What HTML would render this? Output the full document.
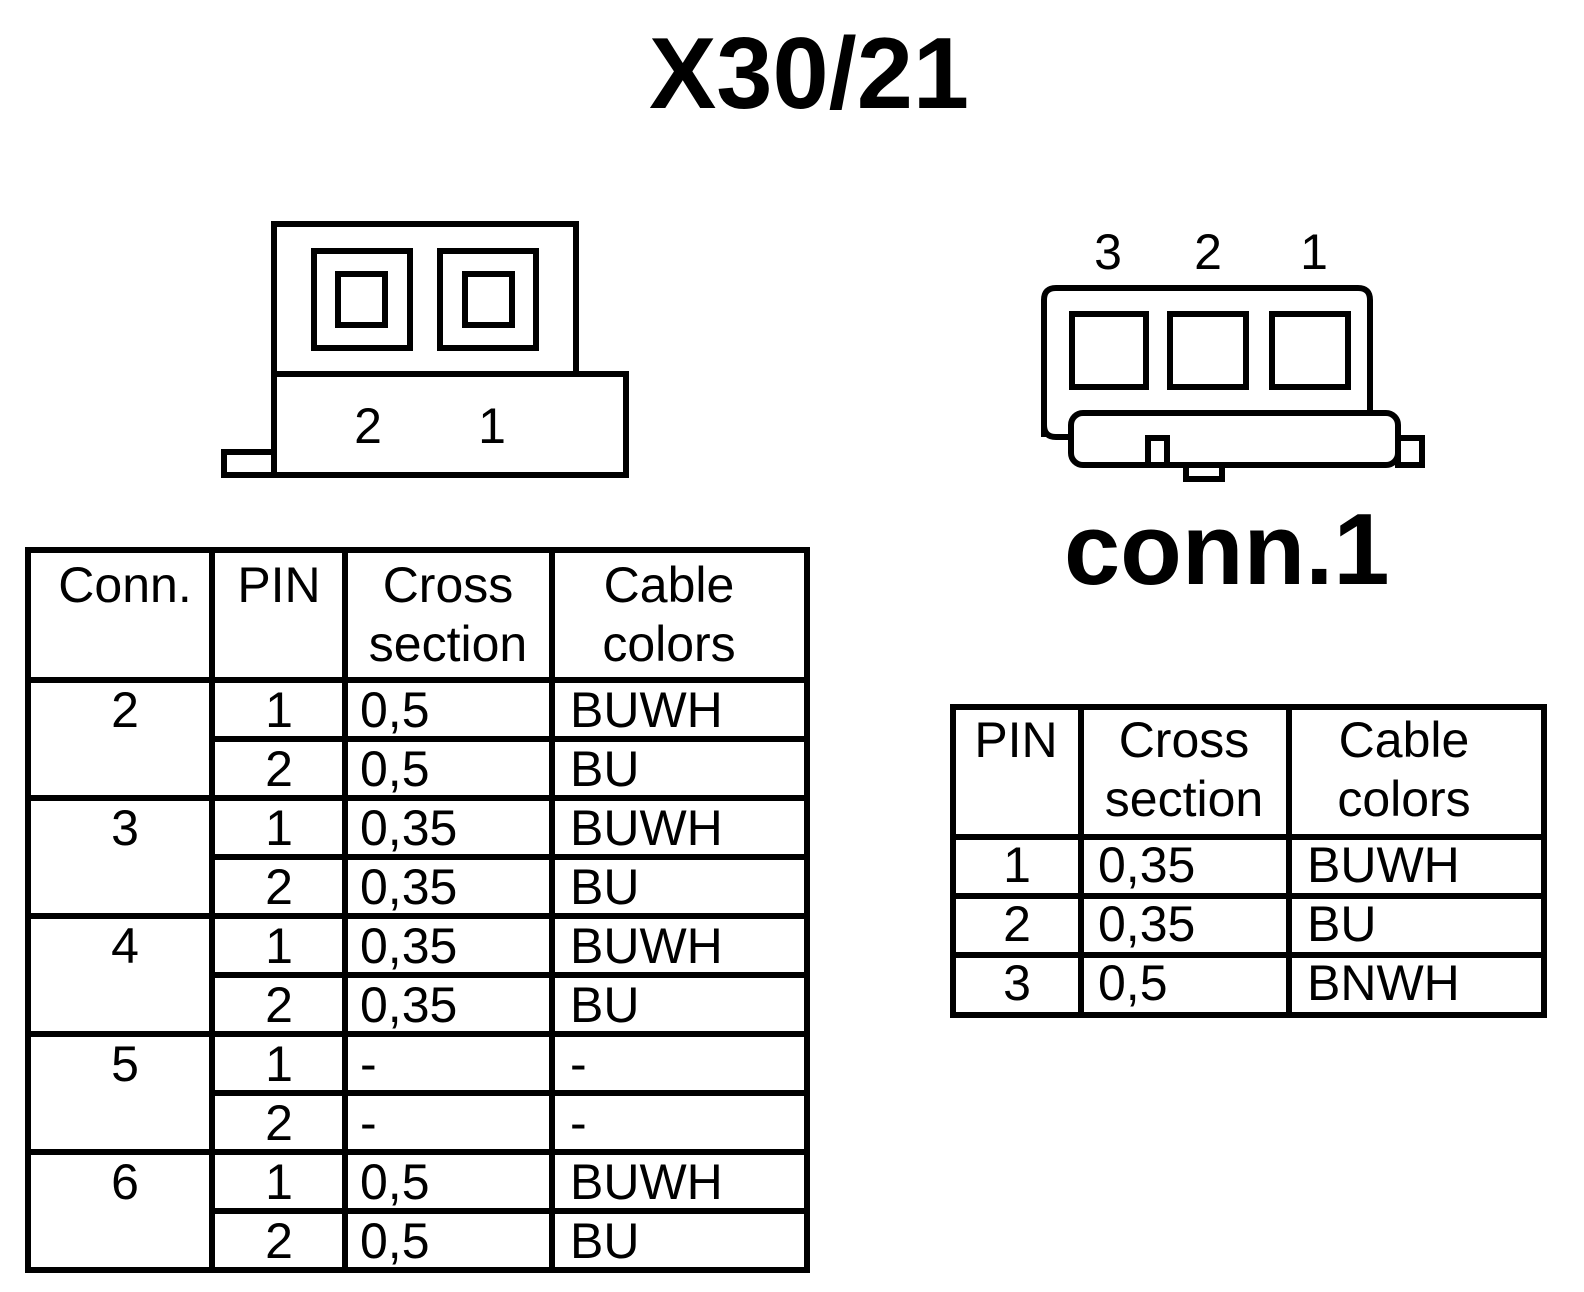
<!DOCTYPE html>
<html><head><meta charset="utf-8"><style>
html,body{margin:0;padding:0;background:#fff}
svg{display:block}
text{font-family:"Liberation Sans",Arial,sans-serif;fill:#000}
</style></head><body>
<svg width="1584" height="1292" viewBox="0 0 1584 1292" xmlns="http://www.w3.org/2000/svg">
<g fill="none" stroke="#000" stroke-width="6">
<!-- left connector -->
<rect x="274" y="224" width="302" height="150"/>
<rect x="274" y="374" width="352" height="101"/>
<rect x="224" y="452" width="50" height="23"/>
<rect x="314" y="251" width="96" height="97"/>
<rect x="338" y="274" width="47" height="51"/>
<rect x="440" y="251" width="96" height="97"/>
<rect x="465" y="274" width="47" height="51"/>
<!-- right connector -->
<path d="M1044 437 L1044 300 Q1044 288 1056 288 L1358 288 Q1370 288 1370 300 L1370 413"/>
<path d="M1044 425 Q1044 437 1056 437 L1071 437"/>
<rect x="1071" y="413" width="327" height="52" rx="12"/>
<rect x="1148" y="438" width="19" height="27"/>
<rect x="1186" y="465" width="36" height="14"/>
<rect x="1398" y="438" width="24" height="27"/>
<rect x="1072" y="314" width="74" height="73"/>
<rect x="1170" y="314" width="76" height="73"/>
<rect x="1272" y="314" width="76" height="73"/>
<!-- left table -->
<rect x="28" y="550" width="779" height="720"/>
<line x1="212" y1="550" x2="212" y2="1270"/>
<line x1="345" y1="550" x2="345" y2="1270"/>
<line x1="552" y1="550" x2="552" y2="1270"/>
<line x1="28" y1="680" x2="807" y2="680"/>
<line x1="212" y1="739" x2="807" y2="739"/>
<line x1="28" y1="798" x2="807" y2="798"/>
<line x1="212" y1="857" x2="807" y2="857"/>
<line x1="28" y1="916" x2="807" y2="916"/>
<line x1="212" y1="975" x2="807" y2="975"/>
<line x1="28" y1="1034" x2="807" y2="1034"/>
<line x1="212" y1="1093" x2="807" y2="1093"/>
<line x1="28" y1="1152" x2="807" y2="1152"/>
<line x1="212" y1="1211" x2="807" y2="1211"/>
<!-- right table -->
<rect x="953" y="707" width="591" height="308"/>
<line x1="1081" y1="707" x2="1081" y2="1015"/>
<line x1="1289" y1="707" x2="1289" y2="1015"/>
<line x1="953" y1="837" x2="1544" y2="837"/>
<line x1="953" y1="896" x2="1544" y2="896"/>
<line x1="953" y1="955" x2="1544" y2="955"/>
</g>
<text x="809" y="108" font-size="101" font-weight="bold" text-anchor="middle">X30/21</text>
<text x="1064" y="584" font-size="101" font-weight="bold">conn.1</text>
<g font-size="50">
<text x="368" y="443" text-anchor="middle">2</text>
<text x="492" y="443" text-anchor="middle">1</text>
<text x="1108" y="269" text-anchor="middle">3</text>
<text x="1208" y="269" text-anchor="middle">2</text>
<text x="1314" y="269" text-anchor="middle">1</text>
</g>
<g font-size="50">
<text x="125" y="602" text-anchor="middle">Conn.</text>
<text x="279" y="602" text-anchor="middle">PIN</text>
<text x="448" y="602" text-anchor="middle">Cross</text>
<text x="448" y="661" text-anchor="middle">section</text>
<text x="669" y="602" text-anchor="middle">Cable</text>
<text x="669" y="661" text-anchor="middle">colors</text>

<text x="125" y="727" text-anchor="middle">2</text>
<text x="125" y="845" text-anchor="middle">3</text>
<text x="125" y="963" text-anchor="middle">4</text>
<text x="125" y="1081" text-anchor="middle">5</text>
<text x="125" y="1199" text-anchor="middle">6</text>

<text x="279" y="727" text-anchor="middle">1</text>
<text x="279" y="786" text-anchor="middle">2</text>
<text x="279" y="845" text-anchor="middle">1</text>
<text x="279" y="904" text-anchor="middle">2</text>
<text x="279" y="963" text-anchor="middle">1</text>
<text x="279" y="1022" text-anchor="middle">2</text>
<text x="279" y="1081" text-anchor="middle">1</text>
<text x="279" y="1140" text-anchor="middle">2</text>
<text x="279" y="1199" text-anchor="middle">1</text>
<text x="279" y="1258" text-anchor="middle">2</text>

<text x="360" y="727">0,5</text>
<text x="360" y="786">0,5</text>
<text x="360" y="845">0,35</text>
<text x="360" y="904">0,35</text>
<text x="360" y="963">0,35</text>
<text x="360" y="1022">0,35</text>
<text x="360" y="1081">-</text>
<text x="360" y="1140">-</text>
<text x="360" y="1199">0,5</text>
<text x="360" y="1258">0,5</text>

<text x="570" y="727">BUWH</text>
<text x="570" y="786">BU</text>
<text x="570" y="845">BUWH</text>
<text x="570" y="904">BU</text>
<text x="570" y="963">BUWH</text>
<text x="570" y="1022">BU</text>
<text x="570" y="1081">-</text>
<text x="570" y="1140">-</text>
<text x="570" y="1199">BUWH</text>
<text x="570" y="1258">BU</text>

<text x="1016" y="757" text-anchor="middle">PIN</text>
<text x="1184" y="757" text-anchor="middle">Cross</text>
<text x="1184" y="816" text-anchor="middle">section</text>
<text x="1404" y="757" text-anchor="middle">Cable</text>
<text x="1404" y="816" text-anchor="middle">colors</text>
<text x="1017" y="882" text-anchor="middle">1</text>
<text x="1017" y="941" text-anchor="middle">2</text>
<text x="1017" y="1000" text-anchor="middle">3</text>
<text x="1098" y="882">0,35</text>
<text x="1098" y="941">0,35</text>
<text x="1098" y="1000">0,5</text>
<text x="1307" y="882">BUWH</text>
<text x="1307" y="941">BU</text>
<text x="1307" y="1000">BNWH</text>
</g>
</svg>
</body></html>
